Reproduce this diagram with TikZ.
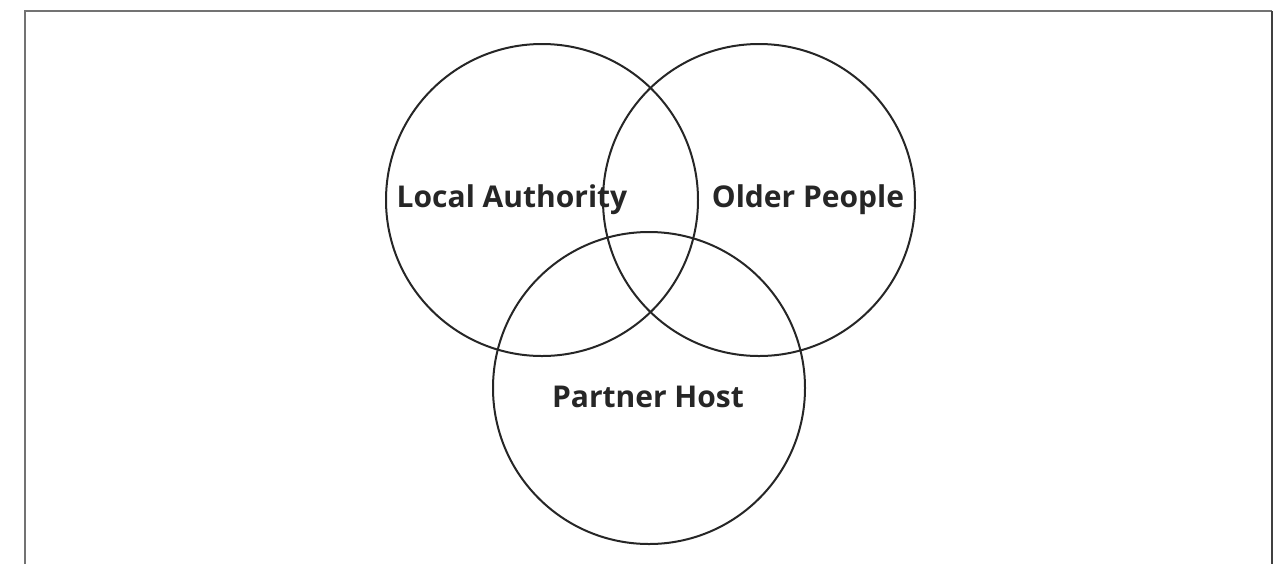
\documentclass[tikz,border=0pt]{standalone}
\usepackage{fontspec}
\setmainfont{Open Sans}
\usepackage{tikz}

\begin{document}
\begin{tikzpicture}[x=0.5pt,y=-0.5pt,
  ring/.style={circle,draw=black!85,line width=1pt,minimum size=156pt,inner sep=0pt},
  lbl/.style={anchor=base,font=\bfseries\fontsize{15}{18}\selectfont,text=black!85,inner sep=0pt}]
                      \useasboundingbox (0,0) rectangle (1281,564);
                      \draw[black!55,line width=0.75pt](25,564)--(25,11)--(1272,11);
                      \draw[black!75,line width=0.75pt](1272,11)--(1272,564);
                      \node[ring](la)at(542,200){};
                      \node[ring](op)at(759,200){};
                      \node[ring](ph)at(649,388){};
                      \node[lbl](tla)at(512,207){Local Authority};
                      \node[lbl](top)at(808,207){Older People};
                      \node[lbl](tph)at(648,407){Partner Host};
                  \end{tikzpicture}
\end{document}
